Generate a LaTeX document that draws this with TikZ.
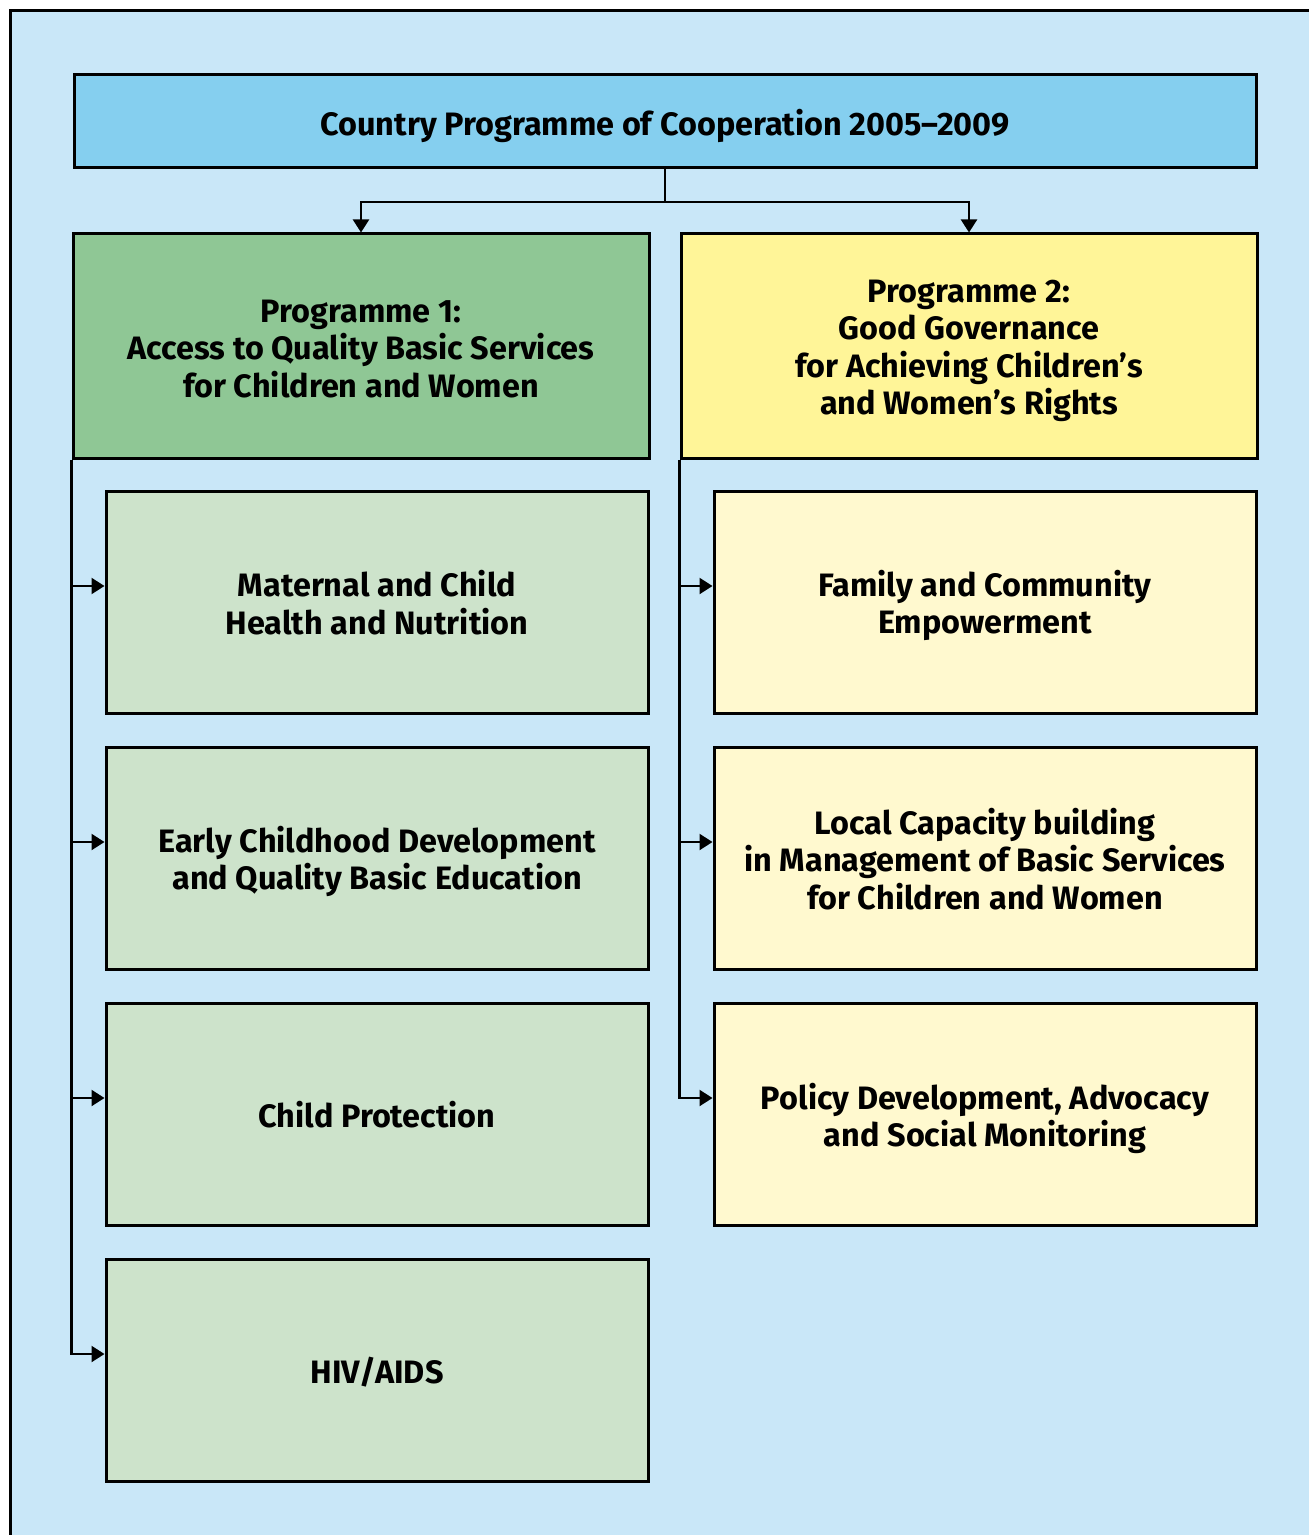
\documentclass[tikz,border=0pt]{standalone}
\usepackage{fontspec}
\setmainfont{Fira Sans}
\usetikzlibrary{arrows.meta,positioning}
\definecolor{bgblue}{HTML}{C9E7F8}
\definecolor{topblue}{HTML}{85CFEF}
\definecolor{pgreen}{HTML}{8FC795}
\definecolor{pyellow}{HTML}{FFF598}
\definecolor{sgreen}{HTML}{CDE3CB}
\definecolor{syellow}{HTML}{FFF9CF}
\begin{document}
\begin{tikzpicture}[x=0.5pt,y=-0.5pt,
  box/.style={draw=black,line width=1.5pt,rectangle,inner sep=0pt},
  txt/.style={align=center,inner sep=0pt,font=\fontsize{16.2pt}{18.7pt}\selectfont\bfseries},
  topbox/.style={box,fill=topblue,minimum width=591pt,minimum height=46.5pt},
  progbox/.style={box,minimum width=288pt,minimum height=112pt},
  subbox/.style={box,minimum width=271pt,minimum height=111pt},
  conn/.style={line width=1.1pt,-{Triangle[length=6.5pt,width=8pt]}},
  plain/.style={line width=1.1pt}]
\useasboundingbox (0,0) rectangle (1308,1535);
\fill[white] (0,0) rectangle (1308,1535);
\draw[fill=bgblue,line width=1.5pt] (10,11) rectangle (1330,1560);

\node[topbox] (top) at (665,121.5) {};
\node[progbox,fill=pgreen] (p1) at (361,346) {};
\node[progbox,fill=pyellow] (p2) at (969,346) {};
\node[subbox,fill=sgreen] (l1) at (377,602) {};
\node[subbox,fill=sgreen] (l2) at (377,858) {};
\node[subbox,fill=sgreen] (l3) at (377,1114) {};
\node[subbox,fill=sgreen] (l4) at (377,1370) {};
\node[subbox,fill=syellow] (r1) at (985,602) {};
\node[subbox,fill=syellow] (r2) at (985,858) {};
\node[subbox,fill=syellow] (r3) at (985,1114) {};

\node[txt] (topt) at ([yshift=-2pt]top.center) {Country Programme of Cooperation 2005–2009};
\node[txt] (p1t) at ([yshift=-1.5pt]p1.center) {Programme 1:\\Access to Quality Basic Services\\for Children and Women};
\node[txt] (p2t) at ([yshift=-2.5pt]p2.center) {Programme 2:\\Good Governance\\for Achieving Children’s\\and Women’s Rights};
\node[txt] (l1t) at ([yshift=-0.3pt]l1.center) {Maternal and Child\\Health and Nutrition};
\node[txt] (l2t) at ([yshift=-1.7pt]l2.center) {Early Childhood Development\\and Quality Basic Education};
\node[txt] (l3t) at ([yshift=-0.5pt]l3.center) {Child Protection};
\node[txt] (l4t) at ([yshift=-1pt]l4.center) {HIV/AIDS};
\node[txt] (r1t) at ([yshift=-1.7pt]r1.center) {Family and Community\\Empowerment};
\node[txt] (r2t) at ([yshift=-0.5pt]r2.center) {Local Capacity building\\in Management of Basic Services\\for Children and Women};
\node[txt] (r3t) at ([yshift=-2.2pt]r3.center) {Policy Development, Advocacy\\and Social Monitoring};

\coordinate (split) at (665,202);
\draw[plain] (top.south) -- (split);
\draw[conn] (split) -| (p1.north);
\draw[conn] (split) -| (p2.north);

\foreach \n in {l1,l2,l3,l4}
  \draw[conn] (p1.south west) |- ([yshift=8pt]\n.west);
\foreach \n in {r1,r2,r3}
  \draw[conn] (p2.south west) |- ([yshift=8pt]\n.west);
\end{tikzpicture}
\end{document}
